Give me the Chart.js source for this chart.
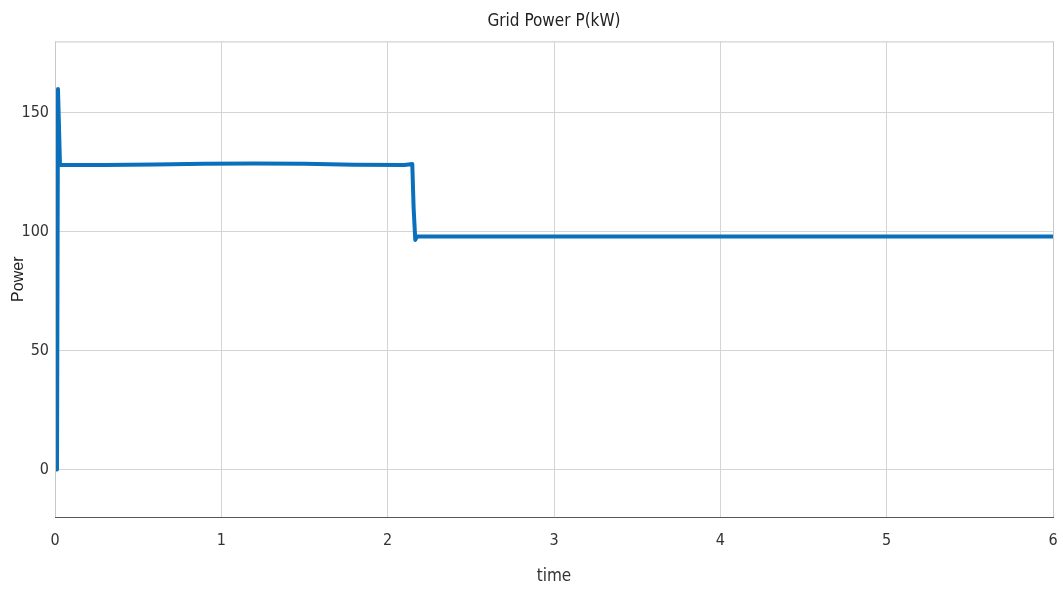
<!DOCTYPE html>
<html>
<head>
<meta charset="utf-8">
<title>Grid Power P(kW)</title>
<script src="https://cdn.jsdelivr.net/npm/chart.js@4"></script>
<style>
    html, body { margin: 0; padding: 0; background: #fff; }
    #wrap { width: 1063px; height: 591px; }
</style>
</head>
<body>
<div id="wrap"><canvas id="gridPowerChart"></canvas></div>
<script>
// values
const times = [0, 0.012, 0.018, 0.03, 0.3, 0.6, 0.9, 1.2, 1.5, 1.8, 2.1, 2.148, 2.156, 2.166, 2.176, 2.2, 3, 4, 5, 6];
const power = [0, 0, 160, 128, 128, 128.2, 128.5, 128.7, 128.5, 128.1, 128, 128.4, 110, 96.5, 98, 98, 98, 98, 98, 98];
const xTicks = [0, 1, 2, 3, 4, 5, 6];
const yTicks = [0, 50, 100, 150];

const narrow = '"DejaVu Sans Condensed", "Liberation Sans Narrow", Arial, sans-serif';

// box round the plot area, like the original figure
const frame = {
    id: 'frame',
    afterDraw(chart) {
        const { ctx, chartArea: a } = chart;
        ctx.save();
        ctx.lineWidth = 1;
        ctx.strokeStyle = '#c8c8c8';
        ctx.strokeRect(a.left + 0.5, a.top + 0.5, a.right - a.left, a.bottom - a.top);
        ctx.strokeStyle = '#555';
        ctx.beginPath();
        ctx.moveTo(a.left, a.bottom + 0.5);
        ctx.lineTo(a.right + 1, a.bottom + 0.5);
        ctx.stroke();
        ctx.restore();
    }
};

const ctx = document.getElementById('gridPowerChart').getContext('2d');
new Chart(ctx, {
    type: 'line',
    data: {
        datasets: [{
            label: 'Grid Power',
            data: times.map((t, i) => ({ x: t, y: power[i] })),
            borderColor: '#0A70BB',
            borderWidth: 4,
            borderJoinStyle: 'round',
            pointRadius: 0,
            tension: 0,
            fill: false
        }]
    },
    options: {
        responsive: true,
        maintainAspectRatio: false,
        animation: false,
        layout: { padding: { top: 0, right: 10, left: 0, bottom: 0 } },
        plugins: {
            legend: { display: false },
            tooltip: { enabled: false },
            title: {
                display: true,
                fullSize: false,
                text: 'Grid Power P(kW)',
                color: '#222',
                font: { family: narrow, size: 17, weight: 'normal' },
                padding: { top: 11, bottom: 10 }
            }
        },
        scales: {
            x: {
                type: 'linear',
                min: 0,
                max: 6,
                afterBuildTicks: scale => { scale.ticks = xTicks.map(v => ({ value: v })); },
                afterFit: scale => {
                    scale.height = 74;
                    scale.paddingLeft = 0;
                    scale.paddingRight = 0;
                },
                border: { display: false },
                grid: { color: '#d4d4d4', drawTicks: false },
                ticks: {
                    color: '#333',
                    padding: 14,
                    font: { family: narrow, size: 16 }
                },
                title: {
                    display: true,
                    text: 'time',
                    color: '#333',
                    font: { family: narrow, size: 17 },
                    padding: { top: 11 }
                }
            },
            y: {
                type: 'linear',
                min: -20,
                max: 180,
                afterBuildTicks: scale => { scale.ticks = yTicks.map(v => ({ value: v })); },
                afterFit: scale => { scale.width = 55; },
                border: { display: false },
                grid: { color: '#d4d4d4', drawTicks: false },
                ticks: {
                    color: '#333',
                    padding: 6,
                    font: { family: narrow, size: 16 }
                },
                title: {
                    display: true,
                    text: 'Power',
                    color: '#222',
                    font: { family: '"Liberation Sans", Arial, sans-serif', size: 16 },
                    padding: { bottom: 0, top: 9 }
                }
            }
        }
    },
    plugins: [frame]
});
</script>
</body>
</html>
